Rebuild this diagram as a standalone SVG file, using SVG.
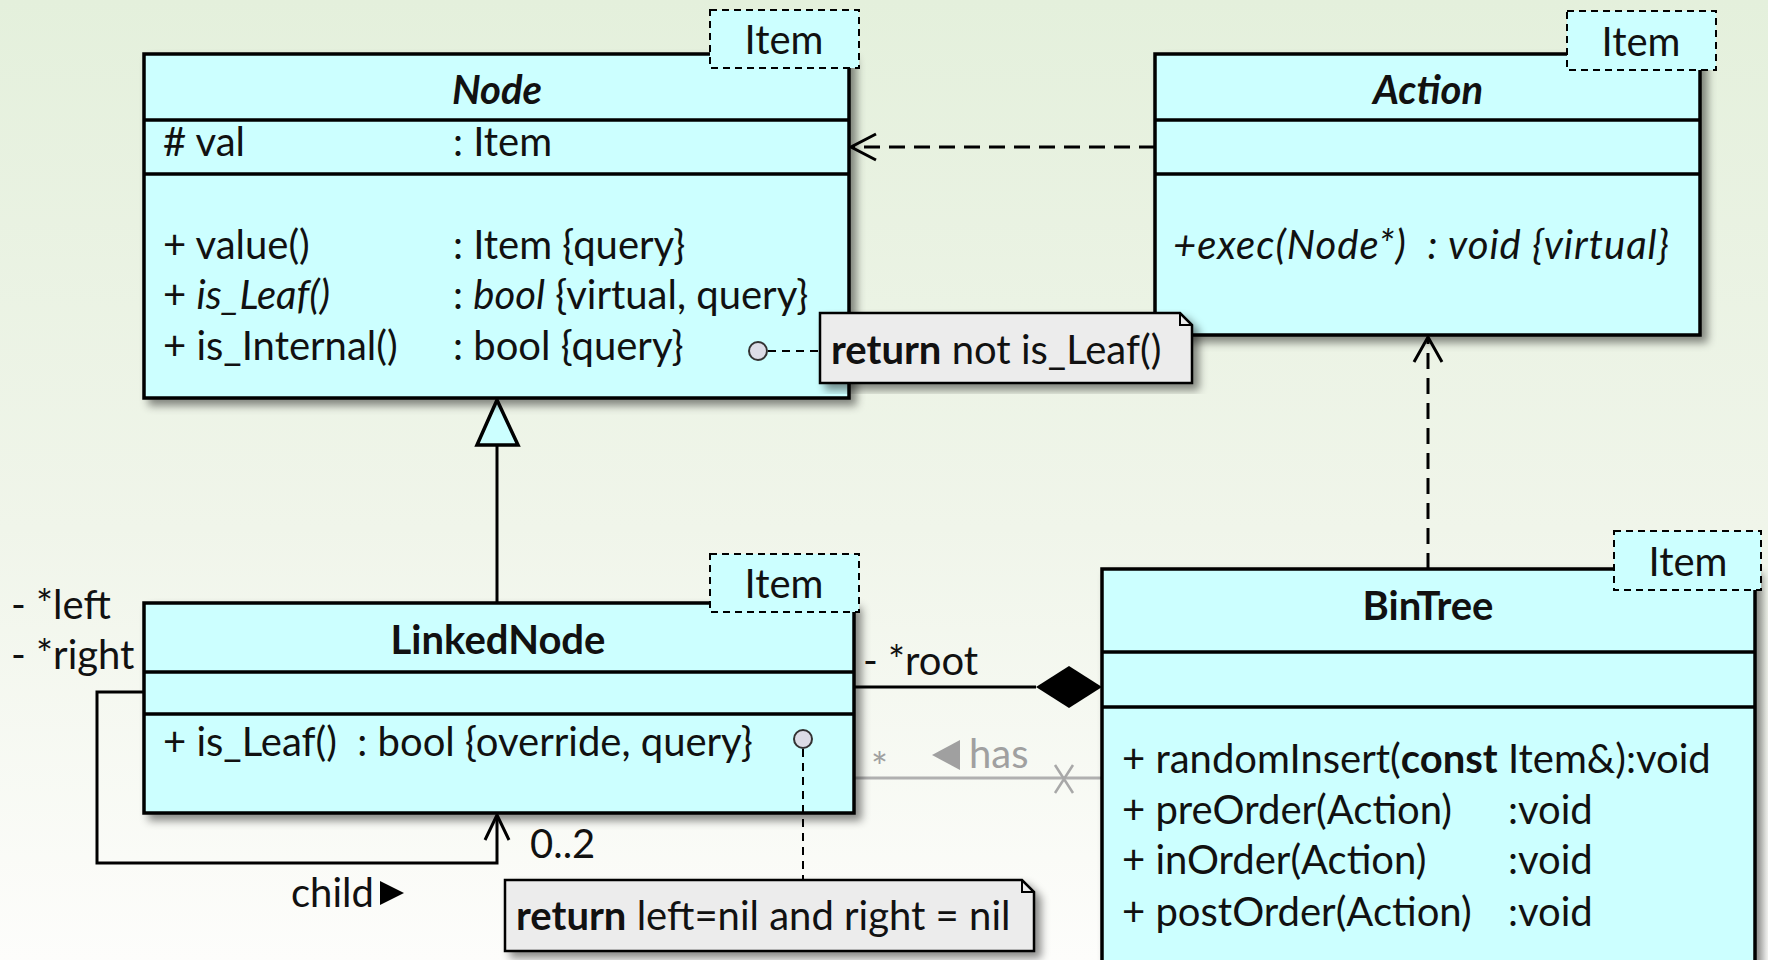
<svg xmlns="http://www.w3.org/2000/svg" width="1768" height="960" viewBox="0 0 1768 960">
<defs>
<linearGradient id="bg" x1="0" y1="0" x2="0" y2="1">
<stop offset="0" stop-color="#e4f0dc"/>
<stop offset="0.55" stop-color="#f0f5ea"/>
<stop offset="1" stop-color="#fdfdfb"/>
</linearGradient>
<filter id="sh" x="-5%" y="-5%" width="115%" height="120%">
<feDropShadow dx="6" dy="6" stdDeviation="4" flood-color="#000" flood-opacity="0.45"/>
</filter>
<style>
text{font-family:Lato,"Liberation Sans",sans-serif;font-size:40px;fill:#111}
.pre{white-space:pre}
.cls{fill:#ccffff;stroke:#000;stroke-width:3.5}
.div{stroke:#000;stroke-width:3.5}
.tag{fill:#ccffff;stroke:#000;stroke-width:2;stroke-dasharray:7 5}
.note{fill:#ececec;stroke:#000;stroke-width:2.5}
.b{font-weight:bold}
.i{font-style:italic}
.bi{font-weight:bold;font-style:italic}
.c{text-anchor:middle}
.ln{fill:none;stroke:#000;stroke-width:3}
.dash{fill:none;stroke:#000;stroke-width:3;stroke-dasharray:16 9}
.sdash{fill:none;stroke:#000;stroke-width:2;stroke-dasharray:8 6}
.gray{fill:#a0a0a0}
.dot{fill:#dcdce6;stroke:#333;stroke-width:2}
</style>
</defs>
<rect width="1768" height="960" fill="url(#bg)"/>

<g id="connectors">
<!-- dependency Action -> Node -->
<path class="dash" d="M1155 147 H852"/>
<path class="ln" d="M876 134 L851 147 L876 160"/>
<!-- generalization LinkedNode -> Node -->
<path class="ln" d="M497 445 V603"/>
<polygon points="497,400 477,445 518,445" fill="#ccffff" stroke="#000" stroke-width="3.5"/>
<!-- realization BinTree -> Action -->
<path class="dash" d="M1428 569 V338"/>
<path class="ln" d="M1414 362 L1428 337 L1442 362"/>
<!-- composition -->
<path class="ln" d="M854 687 H1036"/>
<polygon points="1036,687 1069,666 1102,687 1069,708" fill="#000"/>
<!-- has -->
<path d="M854 778 H1102" stroke="#b0b0b0" stroke-width="3" fill="none"/>
<path d="M1055 765 L1073 793 M1073 765 L1055 793" stroke="#a8a8a8" stroke-width="2.5" fill="none"/>
<!-- self association -->
<path class="ln" d="M144 692 H97 V863 H497 V816"/>
<path class="ln" d="M485 840 L497 815 L509 840"/>
</g>

<g id="Node">
<rect class="cls" x="144" y="54" width="705" height="344" filter="url(#sh)"/>
<line class="div" x1="144" y1="120" x2="849" y2="120"/>
<line class="div" x1="144" y1="174" x2="849" y2="174"/>
<rect class="tag" x="710" y="10" width="149" height="58"/>
<text x="784" y="54" class="c">Item</text>
<text x="497" y="104" class="c bi">Node</text>
<text x="163" y="156"># val</text>
<text x="453" y="156">: Item</text>
<text x="163" y="259">+ value()</text>
<text x="453" y="259">: Item {query}</text>
<text x="163" y="309">+ <tspan class="i">is_Leaf()</tspan></text>
<text x="453" y="309">: <tspan class="i">bool</tspan> {virtual, query}</text>
<text x="163" y="360">+ is_Internal()</text>
<text x="453" y="360">: bool {query}</text>
</g>

<g id="Action">
<rect class="cls" x="1155" y="54" width="545" height="281" filter="url(#sh)"/>
<line class="div" x1="1155" y1="120" x2="1700" y2="120"/>
<line class="div" x1="1155" y1="174" x2="1700" y2="174"/>
<rect class="tag" x="1567" y="11" width="149" height="59"/>
<text x="1641" y="56" class="c">Item</text>
<text x="1428" y="104" class="c bi">Action</text>
<text x="1173" y="259" class="i pre" textLength="496" lengthAdjust="spacing">+exec(Node*)  : void {virtual}</text>
</g>

<g id="Note1">
<circle class="dot" cx="758" cy="351" r="9"/>
<path class="sdash" d="M768 351 H820"/>
<path class="note" d="M820 313 H1180 L1192 325 V383 H820 Z" filter="url(#sh)"/>
<path d="M1180 313 V325 H1192" fill="none" stroke="#000" stroke-width="2"/>
<text x="831" y="364"><tspan class="b">return</tspan> not is_Leaf()</text>
</g>

<g id="LinkedNode">
<rect class="cls" x="144" y="603" width="710" height="210" filter="url(#sh)"/>
<line class="div" x1="144" y1="672" x2="854" y2="672"/>
<line class="div" x1="144" y1="714" x2="854" y2="714"/>
<rect class="tag" x="710" y="554" width="149" height="58"/>
<text x="784" y="598" class="c">Item</text>
<text x="498" y="654" class="c b">LinkedNode</text>
<text x="163" y="756" class="pre">+ is_Leaf()  : bool {override, query}</text>
</g>

<g id="Note2">
<circle class="dot" cx="803" cy="739" r="9"/>
<path class="sdash" d="M803 749 V880"/>
<path class="note" d="M505 880 H1022 L1034 892 V951 H505 Z" filter="url(#sh)"/>
<path d="M1022 880 V892 H1034" fill="none" stroke="#000" stroke-width="2"/>
<text x="516" y="930"><tspan class="b">return</tspan> left=nil and right = nil</text>
</g>

<g id="BinTree">
<rect class="cls" x="1102" y="569" width="653" height="420" filter="url(#sh)"/>
<line class="div" x1="1102" y1="652" x2="1755" y2="652"/>
<line class="div" x1="1102" y1="707" x2="1755" y2="707"/>
<rect class="tag" x="1614" y="531" width="147" height="59"/>
<text x="1688" y="576" class="c">Item</text>
<text x="1428" y="620" class="c b">BinTree</text>
<text x="1122" y="773">+ randomInsert(<tspan class="b">const</tspan> Item&amp;):void</text>
<text x="1122" y="824">+ preOrder(Action)</text>
<text x="1508" y="824">:void</text>
<text x="1122" y="874">+ inOrder(Action)</text>
<text x="1508" y="874">:void</text>
<text x="1122" y="926">+ postOrder(Action)</text>
<text x="1508" y="926">:void</text>
</g>

<g id="labels">
<text x="11" y="619">- *left</text>
<text x="11" y="669">- *right</text>
<text x="530" y="858">0..2</text>
<text x="291" y="907">child</text>
<polygon points="380,881 404,893 380,905" fill="#000"/>
<text x="863" y="675">- *root</text>
<text x="871" y="782" class="gray" font-size="28">*</text>
<polygon points="960,740 932,755 960,770" fill="#a0a0a0"/>
<text x="969" y="768" class="gray">has</text>
</g>
</svg>
